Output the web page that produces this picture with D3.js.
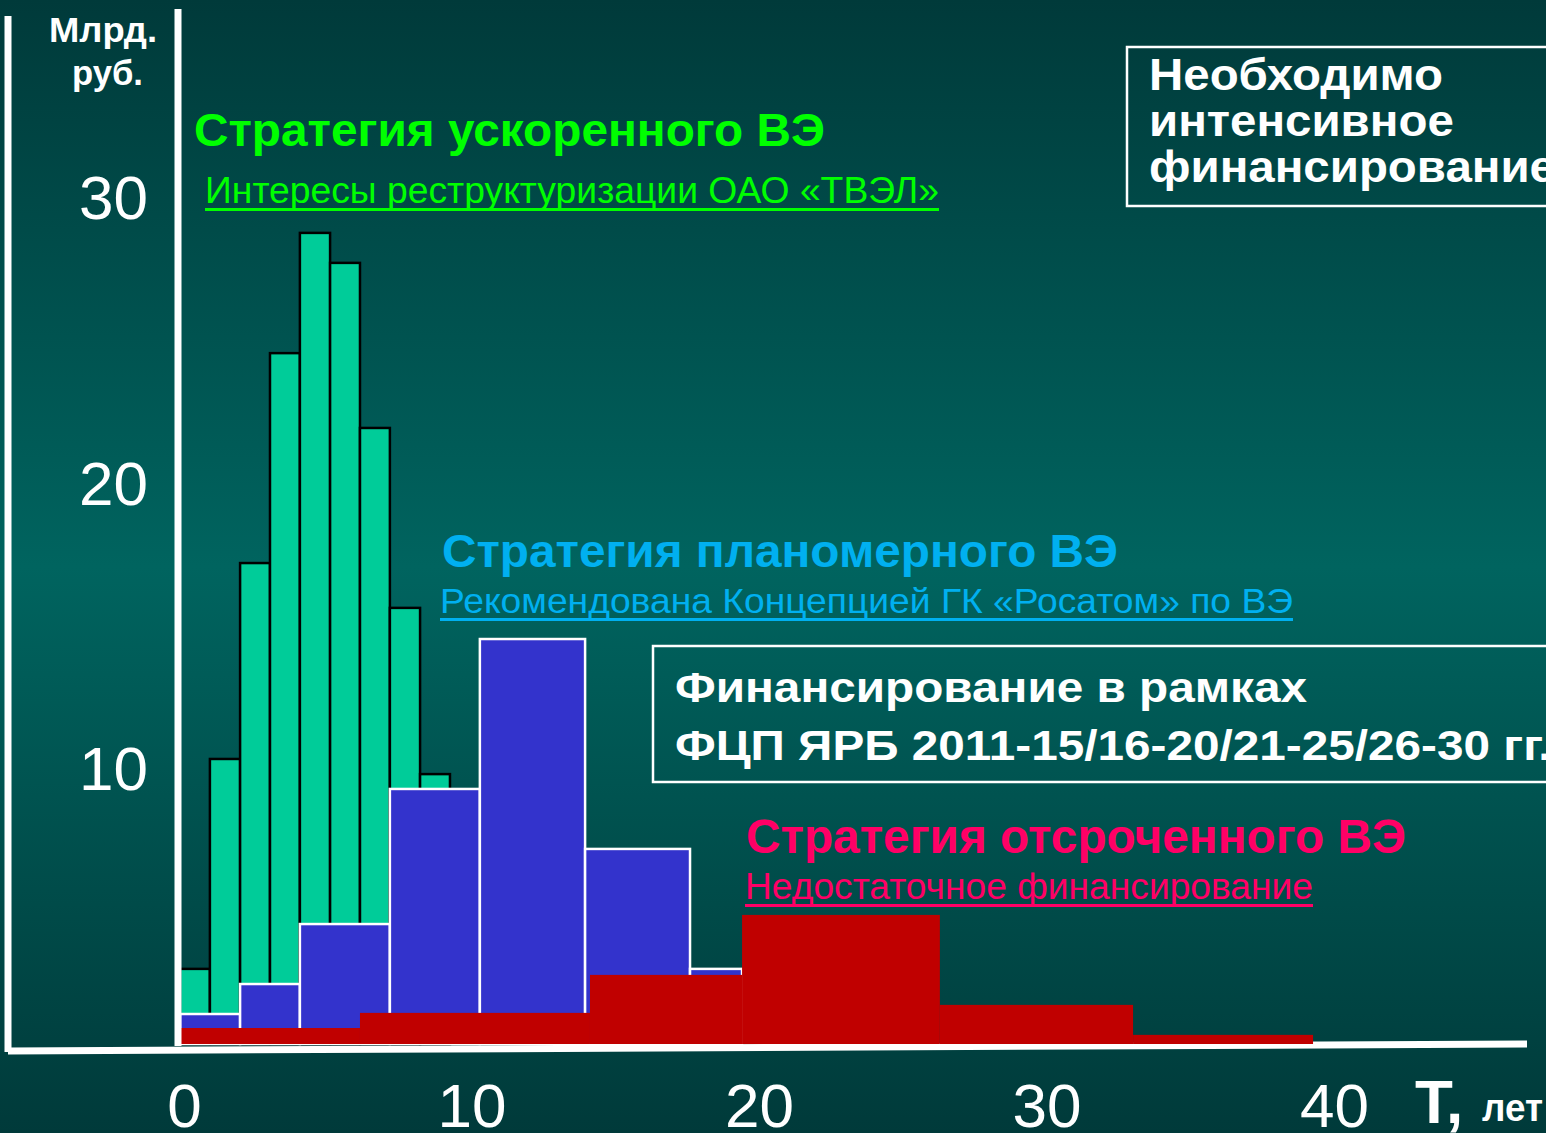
<!DOCTYPE html>
<html>
<head>
<meta charset="utf-8">
<script src="https://cdn.jsdelivr.net/npm/d3@7"></script>
<style>
  body { margin: 0; background: #003838; }
  svg { display: block; }
  text { font-family: "Liberation Sans", Arial, sans-serif; }
</style>
</head>
<body>
<script>
// bin edges (years) and heights (bln rub)
var greenEdges = [0, 1.04, 2.09, 3.13, 4.17, 5.22, 6.26, 7.30, 8.35, 9.39];
var greenValues = [2.63, 9.98, 16.84, 24.19, 28.40, 27.35, 21.57, 15.27, 9.45];
var blueEdges = [0, 2.09, 4.17, 7.30, 10.43, 14.09, 17.74, 19.55];
var blueValues = [1.05, 2.10, 4.20, 8.93, 14.18, 6.83, 2.63];
var redEdges = [0, 6.26, 14.26, 19.55, 26.43, 33.15, 39.41];
var redValues = [0.56, 1.09, 2.42, 4.52, 1.37, 0.32];
var xTicks = [0, 10, 20, 30, 40];
var yTicks = [10, 20, 30];

var width = 1546, height = 1133;

var svg = d3.select('body').append('svg')
    .attr('width', width)
    .attr('height', height);

var grad = svg.append('defs').append('linearGradient')
    .attr('id', 'bg')
    .attr('x1', 0).attr('y1', 0).attr('x2', 0).attr('y2', 1);
grad.append('stop').attr('offset', '0%').attr('stop-color', '#003a3a');
grad.append('stop').attr('offset', '50%').attr('stop-color', '#00645f');
grad.append('stop').attr('offset', '100%').attr('stop-color', '#003a3a');

svg.append('rect')
    .attr('width', width).attr('height', height)
    .attr('fill', 'url(#bg)');

var x = d3.scaleLinear().domain([0, 40]).range([180, 1330]);
var y = d3.scaleLinear().domain([0, 30]).range([1044, 187.2]);

function bins(edges, values) {
    return values.map(function (v, i) {
        return { x0: edges[i], x1: edges[i + 1], v: v };
    });
}

// horizontal axis line (slightly tilted on the slide)
svg.append('line')
    .attr('x1', 8).attr('y1', 1051)
    .attr('x2', 1527).attr('y2', 1044)
    .attr('stroke', 'white').attr('stroke-width', 7);

// outer left line
svg.append('line')
    .attr('x1', 8).attr('y1', 16)
    .attr('x2', 8).attr('y2', 1052)
    .attr('stroke', 'white').attr('stroke-width', 7);

function drawBars(data, fill, stroke, sw) {
    svg.append('g').selectAll('rect')
        .data(data)
        .enter().append('rect')
        .attr('x', function (d) { return x(d.x0); })
        .attr('y', function (d) { return y(d.v); })
        .attr('width', function (d) { return x(d.x1) - x(d.x0); })
        .attr('height', function (d) { return y(0) - y(d.v); })
        .attr('fill', fill)
        .attr('stroke', stroke)
        .attr('stroke-width', sw);
}

drawBars(bins(greenEdges, greenValues), '#00cc99', 'black', 2.5);
drawBars(bins(blueEdges, blueValues), '#3333cc', 'white', 2.5);
drawBars(bins(redEdges, redValues), '#c00000', 'none', 0);

// y axis line
svg.append('line')
    .attr('x1', 178).attr('y1', 9)
    .attr('x2', 178).attr('y2', 1046)
    .attr('stroke', 'white').attr('stroke-width', 7);

// tick labels
var xAxis = svg.append('g')
    .attr('transform', 'translate(4,1127)')
    .call(d3.axisBottom(x).tickValues(xTicks).tickSize(0).tickFormat(d3.format('d')));
xAxis.select('.domain').remove();
xAxis.selectAll('text')
    .attr('y', 0).attr('dy', 0)
    .attr('fill', 'white')
    .style('font-size', '62px')
    .style('font-family', '"Liberation Sans", Arial, sans-serif');

var yAxis = svg.append('g')
    .attr('transform', 'translate(148,9)')
    .call(d3.axisLeft(y).tickValues(yTicks).tickSize(0).tickPadding(0).tickFormat(d3.format('d')));
yAxis.select('.domain').remove();
yAxis.selectAll('text')
    .attr('dy', '0.36em')
    .attr('fill', 'white')
    .style('font-size', '62px')
    .style('font-family', '"Liberation Sans", Arial, sans-serif');

function label(txt, px, py, size, weight, color, len, underline) {
    var t = svg.append('text')
        .attr('x', px).attr('y', py)
        .attr('fill', color)
        .style('font-size', size + 'px')
        .style('font-weight', weight)
        .text(txt);
    if (len) {
        t.attr('textLength', len).attr('lengthAdjust', 'spacingAndGlyphs');
    }
    if (underline) {
        svg.append('rect')
            .attr('x', px).attr('y', py + 5)
            .attr('width', len).attr('height', 3)
            .attr('fill', color);
    }
    return t;
}

label('Млрд.', 49, 42, 35, 'bold', 'white', 108);
label('руб.', 72, 85, 35, 'bold', 'white', 71);
label('T,', 1415, 1123, 62, 'bold', 'white');
label('лет', 1482, 1121, 38, 'bold', 'white', 61);

label('Стратегия ускоренного ВЭ', 194, 146, 46, 'bold', '#00ff00', 631);
label('Интересы реструктуризации ОАО «ТВЭЛ»', 205, 203, 36, 'normal', '#00ff00', 734, true);
label('Стратегия планомерного ВЭ', 442, 567, 47, 'bold', '#00b0f0', 676);
label('Рекомендована Концепцией ГК «Росатом» по ВЭ', 440, 613, 35, 'normal', '#00b0f0', 853, true);
label('Стратегия отсроченного ВЭ', 746, 853, 48, 'bold', '#ff0066', 660);
label('Недостаточное финансирование', 745, 899, 37, 'normal', '#ff0066', 568, true);

// boxed notes; continuation lines get the same horizontal stretch as the first line
function box(bx, by, bh, lines, lx, base, step, size, firstLen) {
    svg.append('rect')
        .attr('x', bx).attr('y', by)
        .attr('width', 1200).attr('height', bh)
        .attr('fill', 'none')
        .attr('stroke', 'white').attr('stroke-width', 2.5);
    var first = label(lines[0], lx, base, size, 'bold', 'white');
    var ratio = firstLen / first.node().getComputedTextLength();
    first.attr('textLength', firstLen).attr('lengthAdjust', 'spacingAndGlyphs');
    lines.slice(1).forEach(function (s, i) {
        var t = label(s, lx, base + step * (i + 1), size, 'bold', 'white');
        t.attr('textLength', t.node().getComputedTextLength() * ratio)
            .attr('lengthAdjust', 'spacingAndGlyphs');
    });
}

box(1127, 47, 159, ['Необходимо', 'интенсивное', 'финансирование'], 1149, 90, 46, 44, 294);
box(653, 646, 136, ['Финансирование в рамках', 'ФЦП ЯРБ 2011-15/16-20/21-25/26-30 гг.'], 675, 702, 58, 42, 632);
</script>
</body>
</html>
